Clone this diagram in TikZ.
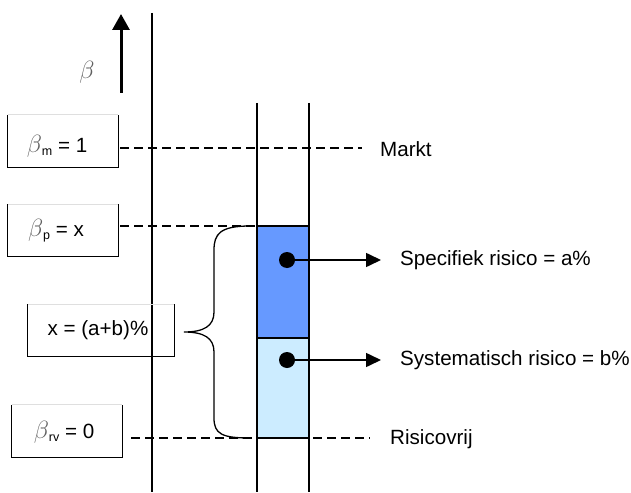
\documentclass[tikz,border=0pt]{standalone}
\usepackage{fontspec}
\setmainfont{Liberation Sans}
\usetikzlibrary{arrows.meta}
\definecolor{specblue}{HTML}{6699FF}
\definecolor{sysblue}{HTML}{CCECFF}
\definecolor{betagray}{HTML}{606060}
\newcommand{\bsym}{{\color{betagray}\fontsize{25}{25}\selectfont$\beta$}}
\newcommand{\sbs}[1]{\raisebox{-3pt}{\fontsize{12.5}{12.5}\selectfont #1}}
\begin{document}
\begin{tikzpicture}[x=1pt,y=-1pt,
  lbl/.style={font=\fontsize{20.6}{24}\selectfont, inner sep=0pt},
  valbox/.style={draw=none, minimum width=#1, minimum height=52, inner sep=0pt},
  vline/.style={line width=1.4pt},
  dline/.style={line width=1.3pt, dash pattern=on 9pt off 5pt},
  pointer/.style={line width=1.6pt, -{Triangle[length=15pt,width=14pt]}},
  dotmark/.style={circle, fill=black, minimum size=16, inner sep=0pt}]
\useasboundingbox (0,0) rectangle (631,492);
% main axis and column
\coordinate (axT) at (152,13); \coordinate (axB) at (152,492);
\draw[vline] (axT) -- (axB);
\coordinate (c1T) at (257,103); \coordinate (c1B) at (257,492);
\coordinate (c2T) at (309,103); \coordinate (c2B) at (309,492);
% coloured blocks
\fill[specblue] (257,226) rectangle (309,338);
\fill[sysblue] (257,338) rectangle (309,438);
\draw[line width=1.2pt] (257,226) -- (309,226);
\draw[line width=1.2pt] (257,338) -- (309,338);
\draw[line width=1.2pt] (257,438) -- (309,438);
\draw[vline] (c1T) -- (c1B);
\draw[vline] (c2T) -- (c2B);
% beta arrow
\coordinate (arB) at (121,93); \coordinate (arT) at (121,14);
\draw[line width=3pt, -{Triangle[length=16pt,width=17pt]}] (arB) -- (arT);
\node[lbl] (beta) at (87,72) {\bsym};
% boxes
\node[valbox=110] (bm) at (63,141) {};
\node[valbox=110] (bp) at (63,230.5) {};
\node[valbox=146] (bx) at (101,330.5) {};
\node[valbox=110] (brv) at (67,431) {};
\foreach \b in {bm,bp,bx,brv}{
  \draw[gray!25, line width=0.8pt] (\b.north west) -- (\b.north east);
  \draw[line width=1.3pt] (\b.north west) -- (\b.south west) -- (\b.south east) -- (\b.north east);
}
\node[lbl] (tm) at (57,146) {\bsym\sbs{m} = 1};
\node[lbl] (tp) at (56,231) {\bsym\sbs{p} = x};
\node[lbl] (tx) at (98,330) {x = (a+b)\%};
\node[lbl] (trv) at (64,432) {\bsym\sbs{rv} = 0};
% dashed levels
\coordinate (mL) at (120,148); \coordinate (mR) at (362,148);
\coordinate (pL) at (120,226); \coordinate (pR) at (257,226);
\coordinate (rL) at (131,438); \coordinate (rR) at (370,438);
\draw[dline] (mL) -- (mR);
\draw[dline] (pL) -- (pR);
\draw[dline] (rL) -- (rR);
\node[lbl, anchor=west] (markt) at (380,149) {Markt};
\node[lbl, anchor=west] (rv) at (390,439) {Risicovrij};
% brace
\coordinate (brT) at (250,226); \coordinate (brM) at (184,332); \coordinate (brB) at (250,438);
\draw[line width=1.3pt] (brT) .. controls (220,226) and (214,234) .. (214,250)
  -- (214,312) .. controls (214,326) and (204,332) .. (brM)
  .. controls (204,332) and (214,338) .. (214,352)
  -- (214,418) .. controls (214,434) and (222,438) .. (brB);
% pointers
\node[dotmark] (d1) at (287,260) {};
\node[dotmark] (d2) at (287,360) {};
\coordinate (a1) at (381,260); \coordinate (a2) at (381,360);
\draw[pointer] (d1.center) -- (a1);
\draw[pointer] (d2.center) -- (a2);
\node[lbl, anchor=west] (spec) at (400,260) {Specifiek risico = a\%};
\node[lbl, anchor=west] (sys) at (400,360) {Systematisch risico = b\%};
\end{tikzpicture}
\end{document}
